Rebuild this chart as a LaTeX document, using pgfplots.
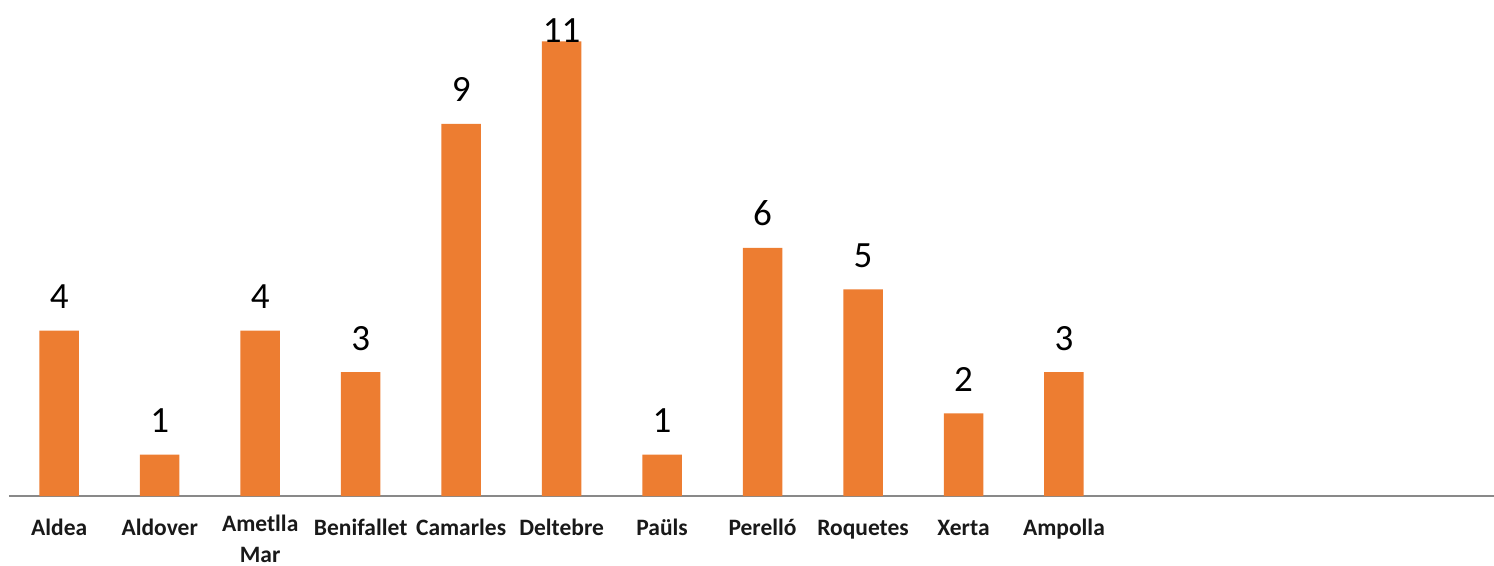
\documentclass[border=0pt]{standalone}
\usepackage{pgfplots}
\pgfplotsset{compat=1.18}
\usepackage{fontspec}
\setmainfont{Carlito}
\definecolor{barorange}{HTML}{ED7D31}
\definecolor{axgray}{HTML}{898989}
\begin{document}
\begin{tikzpicture}
\begin{axis}[
  scale only axis,
  width=1485pt, height=496pt,
  xmin=-0.5, xmax=14.28,
  ymin=0, ymax=12,
  axis x line=bottom,
  axis y line=none,
  x axis line style={-, color=axgray, line width=1.2pt},
  xtick={0,1,2,3,4,5,6,7,8,9,10},
  xticklabels={Aldea,Aldover,{Ametlla\\[1.5pt]Mar},Benifallet,Camarles,Deltebre,Paüls,Perelló,Roquetes,Xerta,Ampolla},
  xtick style={draw=none},
  xticklabel style={font=\bfseries\fontsize{23.5}{29}\selectfont, align=center, anchor=north, inner sep=0pt, execute at begin node=\strut, yshift=-16.7pt, text=black!90},
  ytick=\empty,
  clip=false,
  /pgf/number format/assume math mode=true,
  nodes near coords={\pgfmathprintnumber{\pgfplotspointmeta}},
  nodes near coords style={font=\fontsize{37}{40}\selectfont, anchor=base, yshift=22pt, text=black},
  coordinate style/.condition={\coordindex==5}{yshift=-23pt},
]
\addplot[ybar, bar width=39.5pt, fill=barorange, draw=none] coordinates {
(0,4) (1,1) (2,4) (3,3) (4,9) (5,11) (6,1) (7,6) (8,5) (9,2) (10,3)
};
\end{axis}
\pgfresetboundingbox
\useasboundingbox (-9pt,-69pt) rectangle (1485pt,496pt);
\end{tikzpicture}
\end{document}
